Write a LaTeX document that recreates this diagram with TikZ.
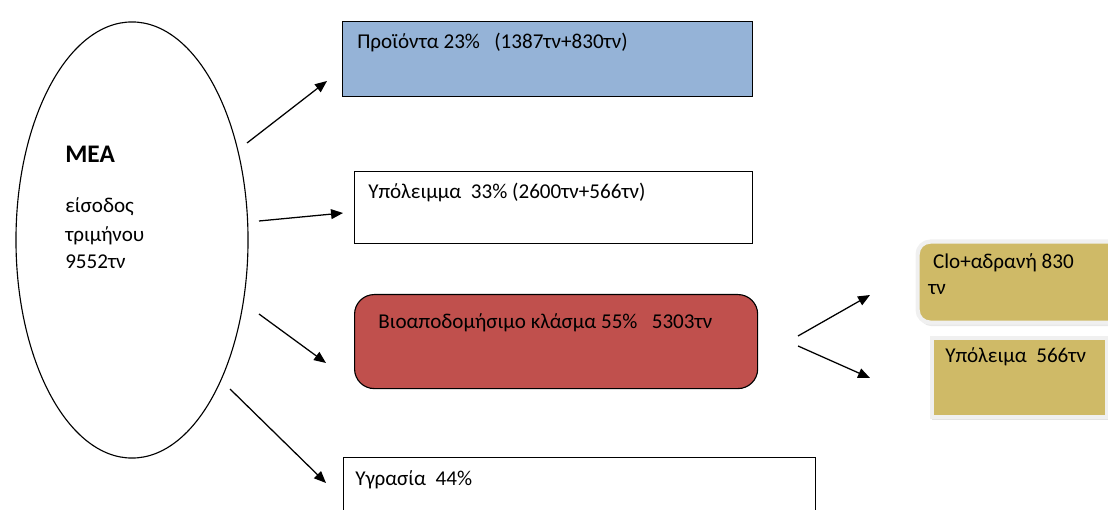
\documentclass[tikz,border=0pt]{standalone}
\usepackage{fontspec}
\setmainfont{Carlito}
\usetikzlibrary{shapes.geometric,arrows.meta,shadows}
\definecolor{prodblue}{HTML}{95B3D7}
\definecolor{biored}{HTML}{C0504D}
\definecolor{restan}{HTML}{CFBA67}
\tikzset{
  flow/.style={-{Triangle[length=8.5pt,width=7pt]}, line width=0.9pt},
  box/.style={draw, line width=0.8pt, anchor=north west, inner sep=0pt},
  tanbox/.style={anchor=north west, inner sep=0pt, fill=restan, draw=white!94!black, line width=3pt},
  txt/.style={anchor=base west, inner sep=0pt, font=\fontsize{15}{20}\selectfont}
}
\begin{document}
\begin{tikzpicture}[x=0.025cm, y=-0.025cm]
\path[use as bounding box, clip] (0,0) rectangle (1108,510);

% input
\node (mea) [draw, ellipse, line width=0.8pt, minimum width=5.8cm, minimum height=10.9cm] at (132,240) {};
\node (meatitle) [txt, font=\fontsize{18}{22}\selectfont\bfseries] at (65,163) {ΜΕΑ};
\node (meain1) [txt] at (65,213) {είσοδος};
\node (meain2) [txt] at (65,242) {τριμήνου};
\node (meain3) [txt] at (65,269) {9552τν};

% outputs
\node (prod) [box, fill=prodblue, minimum width=10.25cm, minimum height=1.875cm] at (342,21) {};
\node (prodtxt) [txt] at (357,49) {Προϊόντα 23\%\ \ \ (1387τν+830τν)};
\node (resid) [box, fill=white, minimum width=9.95cm, minimum height=1.8cm] at (354,171) {};
\node (residtxt) [txt] at (368,199) {Υπόλειμμα\ \ 33\% (2600τν+566τν)};
\node (bio) [box, fill=biored, rounded corners=14pt, minimum width=10.075cm, minimum height=2.35cm] at (354,294) {};
\node (biotxt) [txt] at (378,328) {Βιοαποδομήσιμο κλάσμα 55\%\ \ \ 5303τν};
\node (moist) [box, fill=white, minimum width=11.8cm, minimum height=2.5cm] at (343,457) {};
\node (moisttxt) [txt] at (355,485) {Υγρασία\ \ 44\%};

% split of the biodegradable fraction
\node (clo) [tanbox, rounded corners=9pt, minimum width=5.3cm, minimum height=2.025cm,
  drop shadow={shadow xshift=1pt, shadow yshift=-2.5pt, fill=black!18}] at (915.5,239.5) {};
\node (clotxt1) [txt] at (928,269) {\ Clo+αδρανή 830};
\node (clotxt2) [txt] at (928,295) {τν};
\node (rest) [tanbox, line width=3.5pt, minimum width=4.39cm, minimum height=1.975cm,
  drop shadow={shadow xshift=0pt, shadow yshift=-2.5pt, fill=black!22}] at (929.5,335.5) {};
\node (resttxt) [txt] at (945,362) {Υπόλειμα\ \ 566τν};

% arrows
\coordinate (s1) at (247,143); \coordinate (e1) at (327,81);
\coordinate (s2) at (259,221); \coordinate (e2) at (343,213);
\coordinate (s3) at (259,314); \coordinate (e3) at (326,363);
\coordinate (s4) at (230,389); \coordinate (e4) at (326,483);
\coordinate (s5) at (798,336); \coordinate (e5) at (870,295);
\coordinate (s6) at (798,346); \coordinate (e6) at (870,378);
\draw[flow] (s1) -- (e1);
\draw[flow] (s2) -- (e2);
\draw[flow] (s3) -- (e3);
\draw[flow] (s4) -- (e4);
\draw[flow] (s5) -- (e5);
\draw[flow] (s6) -- (e6);
\end{tikzpicture}
\end{document}
